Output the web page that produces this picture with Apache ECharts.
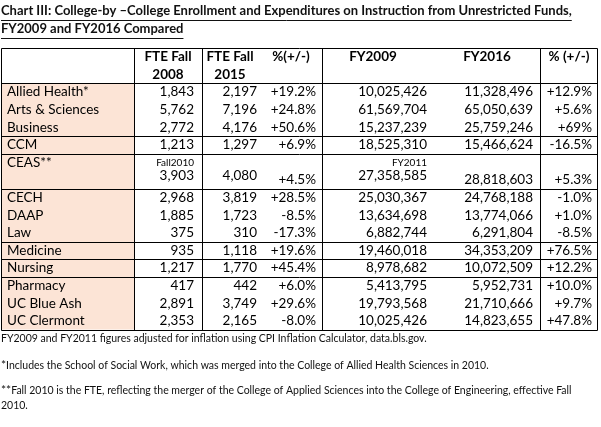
<!DOCTYPE html>
<html><head><meta charset="utf-8">
<script src="https://cdn.jsdelivr.net/npm/echarts@6/dist/echarts.min.js"></script>
<style>html,body{margin:0;padding:0;background:#fff}#c{width:601px;height:427px}</style>
</head><body><div id="c"></div>
<script>
// ---------------- DATA ----------------
const colleges = ['Allied Health*','Arts & Sciences','Business','CCM','CEAS**','CECH','DAAP','Law','Medicine','Nursing','Pharmacy','UC Blue Ash','UC Clermont'];
const fteFall2008 = [1843,5762,2772,1213,3903,2968,1885,375,935,1217,417,2891,2353];
const fteFall2015 = [2197,7196,4176,1297,4080,3819,1723,310,1118,1770,442,3749,2165];
const fteChange = ['+19.2%','+24.8%','+50.6%','+6.9%','+4.5%','+28.5%','-8.5%','-17.3%','+19.6%','+45.4%','+6.0%','+29.6%','-8.0%'];
const expFY2009 = [10025426,61569704,15237239,18525310,27358585,25030367,13634698,6882744,19460018,8978682,5413795,19793568,10025426];
const expFY2016 = [11328496,65050639,25759246,15466624,28818603,24768188,13774066,6291804,34353209,10072509,5952731,21710666,14823655];
const expChange = ['+12.9%','+5.6%','+69%','-16.5%','+5.3%','-1.0%','+1.0%','-8.5%','+76.5%','+12.2%','+10.0%','+9.7%','+47.8%'];
const fteNotes = {'CEAS**':'Fall2010'};
const expNotes = {'CEAS**':'FY2011'};
const headerFte2008 = ['FTE Fall','2008'];
const headerFte2015 = ['FTE Fall','2015'];
const headerFteChange = '%(+/-)';
const headerFY2009 = 'FY2009';
const headerFY2016 = 'FY2016';
const headerExpChange = '% (+/-)';
const titleLines = ['Chart III: College-by \u2013College Enrollment and Expenditures on Instruction from Unrestricted Funds,','FY2009 and FY2016 Compared'];
const footnotes = [
  {sup:'', text:'FY2009 and FY2011 figures adjusted for inflation using CPI Inflation Calculator, data.bls.gov.'},
  {sup:'*', text:'Includes the School of Social Work, which was merged into the College of Allied Health Sciences in 2010.'},
  {sup:'**', text:'Fall 2010 is the FTE, reflecting the merger of the College of Applied Sciences into the College of Engineering, effective Fall'},
  {sup:'', text:'2010.'}
];

// ---------------- LAYOUT ----------------
const FONT = 'Lato, "Liberation Sans", sans-serif';
const FS = 13.5;
const rowLines = {'CEAS**':2};
const groupEnds = ['Business','CCM','CEAS**','Law','Medicine','Nursing'];
const colBorders = [1, 134, 202, 322, 540, 597];
const colRight = {f08:194, f15:257, fch:316, e09:427, e16:533, ech:592};
const labelX = 7;

// row slots
const slots = [];
let s = 0;
colleges.forEach(c => { slots.push(s); s += (rowLines[c] || 1); });
const lastSlot = s - 1;
const topK = -2.5, botK = lastSlot + 0.5;

const fmt = v => v.toLocaleString('en-US');

// cells
const cells = [];
function cell(x, k, text, align, opts) { cells.push(Object.assign({x, k, text, align}, opts || {})); }
cell(168, -2, headerFte2008[0], 'center', {bold:true});
cell(168, -1, headerFte2008[1], 'center', {bold:true});
cell(230, -2, headerFte2015[0], 'center', {bold:true});
cell(230, -1, headerFte2015[1], 'center', {bold:true});
cell(291, -2, headerFteChange, 'center', {bold:true});
cell(373, -2, headerFY2009, 'center', {bold:true});
cell(487, -2, headerFY2016, 'center', {bold:true});
cell(569, -2, headerExpChange, 'center', {bold:true});
colleges.forEach((c, i) => {
  const k = slots[i];
  cell(labelX, k, c, 'left');
  if ((rowLines[c] || 1) > 1) {
    const kv = k + (rowLines[c] - 1);
    if (fteNotes[c]) cell(colRight.f08, k, fteNotes[c], 'right', {size:10});
    if (expNotes[c]) cell(colRight.e09, k, expNotes[c], 'right', {size:10});
    cell(colRight.f08, kv - 0.22, fmt(fteFall2008[i]), 'right');
    cell(colRight.f15, kv - 0.22, fmt(fteFall2015[i]), 'right');
    cell(colRight.fch, kv, fteChange[i], 'right');
    cell(colRight.e09, kv - 0.22, fmt(expFY2009[i]), 'right');
    cell(colRight.e16, kv, fmt(expFY2016[i]), 'right');
    cell(colRight.ech, kv, expChange[i], 'right');
  } else {
    cell(colRight.f08, k, fmt(fteFall2008[i]), 'right');
    cell(colRight.f15, k, fmt(fteFall2015[i]), 'right');
    cell(colRight.fch, k, fteChange[i], 'right');
    cell(colRight.e09, k, fmt(expFY2009[i]), 'right');
    cell(colRight.e16, k, fmt(expFY2016[i]), 'right');
    cell(colRight.ech, k, expChange[i], 'right');
  }
});

// lines
const segs = [];
segs.push([colBorders[0], topK, colBorders[5], topK]);
segs.push([colBorders[0], -0.5, colBorders[5], -0.5]);
groupEnds.forEach(g => {
  const i = colleges.indexOf(g);
  const k = slots[i] + (rowLines[g] || 1) - 0.5;
  segs.push([colBorders[0], k, colBorders[5], k]);
});
segs.push([colBorders[0], botK, colBorders[5], botK]);
colBorders.forEach(x => segs.push([x, topK, x, botK]));

const crisp = v => Math.round(v) + 0.5;

const chart = echarts.init(document.getElementById('c'), null, {renderer:'canvas'});

const mctx = document.createElement('canvas').getContext('2d');
const TITLE_FONT = 'bold 13px ' + FONT;
mctx.font = TITLE_FONT;
const titleW = titleLines.map(t => mctx.measureText(t).width);

const graphics = [];
titleLines.forEach((t, i) => {
  const y = 12 + i * 18;
  graphics.push({type:'text', left:1, top:y - 8, style:{text:t, font:TITLE_FONT, fill:'#111'}});
  graphics.push({type:'line', shape:{x1:1, y1:y + 8.5, x2:1 + titleW[i], y2:y + 8.5}, style:{stroke:'#111', lineWidth:1}});
});
const FN_Y = [340, 366, 391, 407];
footnotes.forEach((f, i) => {
  graphics.push({type:'text', left:1, top:FN_Y[i] - 7, style:{
    rich:{sup:{fontSize:12, fontFamily:FONT, fill:'#111', verticalAlign:'top', lineHeight:14}, n:{fontSize:10.5, fontFamily:FONT, fill:'#111', lineHeight:14}},
    text:(f.sup ? '{sup|' + f.sup + '}' : '') + '{n|' + f.text + '}'
  }});
});

chart.setOption({
  animation:false,
  grid:{left:0, top:48, width:601, height:281.6, containLabel:false},
  xAxis:{type:'value', min:0, max:601, show:false},
  yAxis:{type:'value', min:topK, max:botK, inverse:true, show:false},
  graphic:graphics,
  series:[
    {
      type:'custom', silent:true, z:1,
      data:[[colBorders[0], topK + 2, colBorders[1], botK]],
      renderItem:(p, api) => {
        const a = api.coord([api.value(0), api.value(1)]);
        const b = api.coord([api.value(2), api.value(3)]);
        return {type:'rect', shape:{x:a[0], y:a[1], width:b[0]-a[0], height:b[1]-a[1]}, style:{fill:'#FCE4D6'}};
      }
    },
    {
      type:'custom', silent:true, z:3,
      data:segs,
      renderItem:(p, api) => {
        const a = api.coord([api.value(0), api.value(1)]);
        const b = api.coord([api.value(2), api.value(3)]);
        return {type:'line', shape:{x1:crisp(a[0]), y1:crisp(a[1]), x2:crisp(b[0]), y2:crisp(b[1])}, style:{stroke:'#000', lineWidth:1}};
      }
    },
    {
      type:'custom', silent:true, z:4,
      data:cells.map(c => [c.x, c.k]),
      renderItem:(p, api) => {
        const c = cells[p.dataIndex];
        const pt = api.coord([api.value(0), api.value(1)]);
        return {type:'text', x:pt[0], y:pt[1], style:{text:c.text, align:c.align, verticalAlign:'middle',
          fontSize:c.size || FS, fontFamily:FONT, fontWeight:c.bold ? 'bold' : 'normal', fill:'#000'}};
      }
    }
  ]
});
</script></body></html>
